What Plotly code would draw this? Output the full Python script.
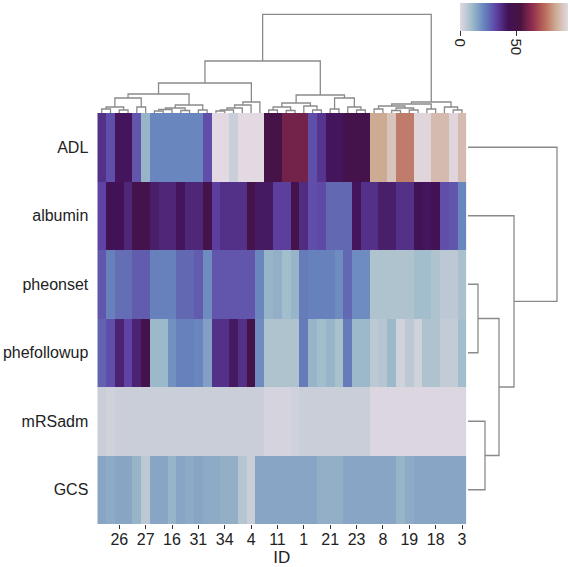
import plotly.graph_objects as go

# ---------------- data ----------------
row_names = ["ADL", "albumin", "pheonset", "phefollowup", "mRSadm", "GCS"]
id_tick_labels = ["26", "27", "16", "31", "34", "4", "11", "1", "21", "23", "8", "19", "18", "3"]
id_tick_positions = [2, 5, 8, 11, 14, 17, 20, 23, 26, 29, 32, 35, 38, 41]

ADL = [36, 30, 42, 42, 29, 12, 21, 21, 21, 21, 21, 21, 30, 0, 0, 4, 0, 0, 0, 50, 50,
       60, 60, 60, 30, 35, 42, 42, 48, 48, 48, 85, 85, 91, 78, 78, 95, 95, 89, 89, 95, 89]
albumin = [32, 43, 43, 38, 48, 48, 40, 38, 38, 42, 38, 38, 48, 33, 36, 36, 36, 48, 41, 41, 33,
           33, 48, 37, 30, 31, 26, 26, 26, 42, 36, 36, 40, 40, 36, 36, 44, 42, 44, 30, 29, 21]
pheonset = [29, 22, 25, 25, 28, 28, 22, 22, 22, 26, 26, 28, 20, 29, 29, 29, 29, 29, 21, 12, 13,
            10, 12, 23, 22, 22, 22, 20, 26, 20, 20, 8, 8, 8, 8, 8, 10, 10, 8, 6, 6, 9]
phefollowup = [27, 30, 39, 32, 39, 48, 11, 11, 19, 22, 22, 21, 16, 36, 36, 41, 36, 48, 20, 8, 8,
               8, 8, 23, 12, 10, 12, 9, 23, 11, 11, 6, 7, 11, 3, 6, 3, 8, 8, 5, 5, 10]
mRSadm = [4, 3, 4, 4, 4, 4, 4, 4, 4, 4, 4, 4, 4, 4, 4, 4, 4, 4, 4, 2, 2,
          2, 3, 4, 4, 4, 4, 4, 4, 4, 4, 1, 1, 1, 1, 1, 1, 1, 1, 1, 1, 1]
GCS = [15, 14, 15, 15, 12, 6, 15, 15, 12, 15, 14, 15, 14, 14, 13, 13, 7, 4, 15, 15, 15,
       15, 15, 15, 15, 13, 13, 13, 15, 15, 15, 15, 15, 15, 12, 14, 15, 15, 15, 15, 15, 15]

# column dendrogram (nested merges: [left, right, distance]; ints are column positions)
A1a = [[0, 1, 4], [2, 3, 3], 6]
A1b = [4, 5, 6]
A1c1 = [[[6, 7, 2], 8, 3.5], [9, 10, 2.5], 5]
A1c = [A1c1, [11, 12, 3], 8]
A1 = [[A1a, A1b, 15], A1c, 19]
A2 = [[[[[13, 14, 2], 15, 3], 16, 5], 17, 8], 18, 11]
B1 = [[[19, 20, 3], [21, 22, 2.5], 6], [23, [24, 25, 3], 7], 10]
B2 = [[26, 27, 4], [28, [29, 30, 3], 6], 15]
C1 = [[[31, 32, 4], [[33, 34, 2.5], [35, 36, 3], 5], 7], [37, 38, 4], 9]
C2 = [39, [40, 41, 3], 6]
col_tree = [[[A1, A2, 30], [B1, B2, 18], 52], [C1, C2, 11], 98.7]

# row dendrogram
row_tree = [0, [1, [[2, 3, 10], [4, 5, 17], 31], 46], 89]

ZMIN, ZMAX = 0, 96

# ---------------- helpers ----------------
def dendro_segments(node, xs, ys):
    """returns (position, height) of node; appends U-shaped segments"""
    if isinstance(node, int):
        return float(node), 0.0
    lp, lh = dendro_segments(node[0], xs, ys)
    rp, rh = dendro_segments(node[1], xs, ys)
    h = node[2]
    xs += [lp, lp, rp, rp, None]
    ys += [lh, h, h, rh, None]
    return (lp + rp) / 2.0, h

W, H = 570, 567
hm_left, hm_right, hm_top, hm_bottom = 97.3, 466.4, 113, 524
xdom = [hm_left / W, hm_right / W]
ydom = [1 - hm_bottom / H, 1 - hm_top / H]

z = [ADL, albumin, pheonset, phefollowup, mRSadm, GCS]
ncol = len(ADL)

fig = go.Figure()
fig.add_trace(go.Heatmap(
    z=z, x=list(range(ncol)), y=list(range(len(row_names))),
    colorscale="twilight", zmin=ZMIN, zmax=ZMAX,
    xaxis="x", yaxis="y",
    colorbar=dict(
        orientation="h", x=460 / W, xanchor="left", y=1 - 3 / H, yanchor="top",
        len=108 / W, lenmode="fraction", thickness=28, outlinewidth=0,
        xpad=0, ypad=0,
        tickvals=[0, 50], ticks="outside", ticklen=5, tickcolor="#333",
        tickangle=90, tickfont=dict(size=15, color="#222"),
    ),
))

cx, cy = [], []
dendro_segments(col_tree, cx, cy)
fig.add_trace(go.Scatter(x=cx, y=cy, mode="lines", xaxis="x2", yaxis="y2",
                         line=dict(color="#8a8a8a", width=1.3), hoverinfo="skip",
                         showlegend=False))
rx, ry = [], []
dendro_segments(row_tree, ry, rx)
fig.add_trace(go.Scatter(x=rx, y=ry, mode="lines", xaxis="x3", yaxis="y3",
                         line=dict(color="#8a8a8a", width=1.3), hoverinfo="skip",
                         showlegend=False))

font = dict(family="Liberation Sans, Arial, sans-serif", color="#222")
fig.update_layout(
    width=W, height=H, margin=dict(l=0, r=0, t=0, b=0),
    paper_bgcolor="white", plot_bgcolor="white", font=font, showlegend=False,
    xaxis=dict(domain=xdom, range=[-0.5, ncol - 0.5], anchor="y",
               tickvals=id_tick_positions, ticktext=id_tick_labels,
               ticks="outside", ticklen=4, tickcolor="#333", tickfont=dict(size=16),
               ticklabelstandoff=-3,
               title=dict(text="ID", font=dict(size=17), standoff=0),
               showgrid=False, zeroline=False, showline=False),
    yaxis=dict(domain=ydom, range=[len(row_names) - 0.5, -0.5], anchor="x",
               tickvals=list(range(len(row_names))), ticktext=row_names,
               ticks="", tickfont=dict(size=16), ticklabelstandoff=8,
               showgrid=False, zeroline=False, showline=False),
    xaxis2=dict(domain=xdom, range=[-0.5, ncol - 0.5], anchor="y2", visible=False),
    yaxis2=dict(domain=[ydom[1], 1], range=[0, hm_top], anchor="x2", visible=False),
    xaxis3=dict(domain=[hm_right / W, 1], range=[-1.6, W - hm_right - 1.6], anchor="y3",
                visible=False),
    yaxis3=dict(domain=ydom, range=[len(row_names) - 0.5, -0.5], anchor="x3", visible=False),
)

fig.write_html("out.html")
